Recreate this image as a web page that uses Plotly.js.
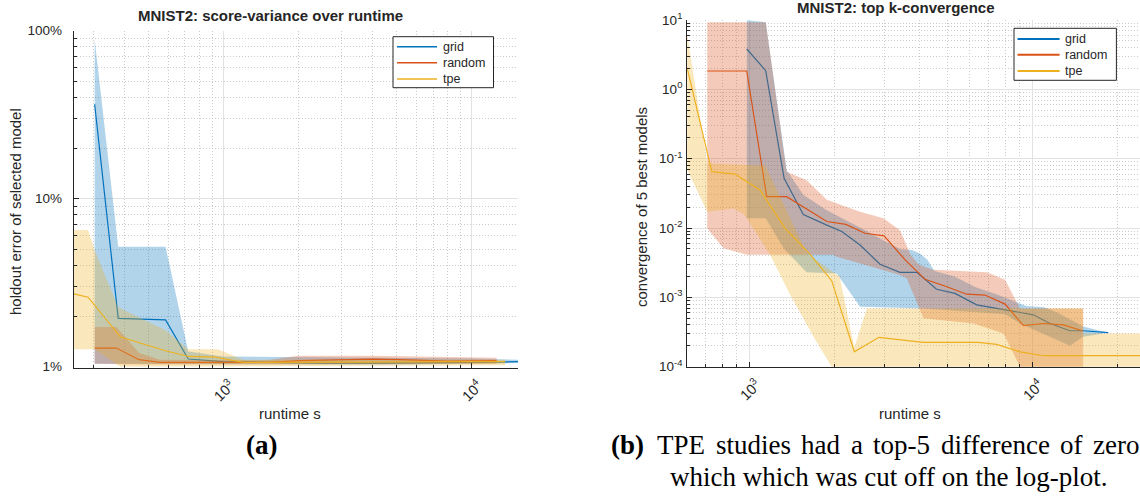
<!DOCTYPE html>
<html>
<head>
<meta charset="utf-8">
<script src="https://cdn.plot.ly/plotly-3.0.1.min.js"></script>
<style>
  html, body { margin: 0; padding: 0; background: #ffffff; }
  #chart { width: 1140px; height: 502px; }
</style>
</head>
<body>
<div id="chart"></div>
<script>
// ---------- (a) holdout error of the selected model [%] over runtime [s] ----------
const gridErrX = [303, 377, 585, 722, 1000, 1500, 2500, 4000, 6000, 10000, 15400];
const gridErrY = [36.5, 1.94, 1.90, 1.11, 1.07, 1.06, 1.05, 1.05, 1.05, 1.06, 1.07];
const gridErrHiX = [303, 377, 585, 722, 1000, 3000, 10000, 15400];
const gridErrHiY = [89, 5.18, 5.18, 1.23, 1.15, 1.14, 1.12, 1.10];
const gridErrLoX = [303, 1000, 5000, 15400];
const gridErrLoY = [1.04, 1.03, 1.03, 1.05];

const randErrX = [303, 371, 457, 555, 1000, 1541, 2036, 4010, 5150, 8000, 12620];
const randErrY = [1.29, 1.29, 1.10, 1.06, 1.06, 1.06, 1.085, 1.11, 1.10, 1.08, 1.085];
const randErrHiX = [303, 371, 457, 555, 1500, 2000, 4000, 8000, 12620];
const randErrHiY = [1.72, 1.72, 1.21, 1.10, 1.09, 1.16, 1.16, 1.14, 1.13];
const randErrLoX = [303, 457, 1000, 12620];
const randErrLoY = [1.04, 1.03, 1.03, 1.04];

const tpeErrX = [250, 285, 385, 590, 722, 925, 1203, 2000, 5000, 10000, 13650];
const tpeErrY = [2.71, 2.59, 1.50, 1.24, 1.15, 1.14, 1.06, 1.06, 1.06, 1.07, 1.07];
const tpeErrHiX = [250, 285, 303, 377, 585, 722, 950, 1203, 5000, 13650];
const tpeErrHiY = [6.5, 6.5, 4.95, 2.26, 1.65, 1.27, 1.27, 1.10, 1.10, 1.10];
const tpeErrLoX = [250, 303, 385, 1000, 13650];
const tpeErrLoY = [1.27, 1.27, 1.0, 1.01, 1.02];

// ---------- (b) convergence of the 5 best models over runtime [s] ----------
const gridConvX = [977, 1140, 1324, 1548, 1875, 2118, 2457, 2890, 3400, 3900, 4580, 5320, 6350, 7470, 8550, 10070, 11530, 13550, 15100, 18530];
const gridConvY = [3.82, 1.86, 0.052, 0.0157, 0.0110, 0.0089, 0.0057, 0.0030, 0.0023, 0.0023, 0.00131, 0.00114, 0.00078, 0.00069, 0.00062, 0.00056, 0.00042, 0.00033, 0.00033, 0.00031];
const gridConvHiX = [977, 1140, 1352, 1550, 1875, 2200, 2600, 3000, 3400, 3750, 4000, 4250, 4500, 5300, 6300, 7500, 8500, 9500, 11000, 12300, 15100, 18530];
const gridConvHiY = [9.9, 9.27, 0.068, 0.03, 0.018, 0.013, 0.009, 0.0065, 0.005, 0.0048, 0.0043, 0.0035, 0.0024, 0.002, 0.0014, 0.0011, 0.0009, 0.00075, 0.00072, 0.0006, 0.00038, 0.00031];
const gridConvLoX = [977, 1140, 1324, 1590, 2032, 2457, 4110, 8000, 9030, 13560, 15100, 18530];
const gridConvLoY = [0.0138, 0.0138, 0.005, 0.0023, 0.0022, 0.00073, 0.00069, 0.00057, 0.00042, 0.0002, 0.00027, 0.00031];

const randConvX = [708, 977, 1149, 1352, 1875, 2188, 2560, 2988, 3540, 4170, 4900, 5850, 6790, 8000, 9290, 10920, 12840, 15040];
const randConvY = [1.84, 1.84, 0.0283, 0.0283, 0.0124, 0.0113, 0.0084, 0.0077, 0.0035, 0.00182, 0.00146, 0.00111, 0.00108, 0.00080, 0.00039, 0.00042, 0.00040, 0.00033];
const randConvHiX = [708, 977, 1140, 1352, 1590, 1875, 2457, 2970, 3400, 3700, 3950, 4220, 4460, 6900, 8000, 9030, 15100];
const randConvHiY = [9.27, 9.27, 9.27, 0.065, 0.049, 0.0256, 0.0172, 0.0138, 0.0093, 0.0042, 0.0030, 0.0027, 0.0025, 0.0023, 0.0018, 0.00069, 0.00069];
const randConvLoX = [708, 808, 977, 1977, 2032, 3400, 3590, 4000, 4110, 6200, 7900, 9030, 9500, 15100];
const randConvLoY = [0.0099, 0.0051, 0.0041, 0.0041, 0.00385, 0.0021, 0.00188, 0.00066, 0.0005, 0.00042, 0.0003, 0.0001, 1e-5, 1e-5];

const tpeConvX = [601, 735, 888, 1088, 1334, 1634, 1950, 2345, 2865, 3400, 4110, 6440, 7470, 9040, 10920, 24000];
const tpeConvY = [2.05, 0.065, 0.060, 0.0353, 0.0099, 0.0042, 0.00174, 0.000164, 0.000265, 0.000248, 0.000225, 0.000225, 0.00021, 0.000164, 0.000144, 0.000144];
const tpeConvHiX = [601, 708, 977, 1134, 1334, 1592, 2080, 2345, 2596, 15100, 15101, 24000];
const tpeConvHiY = [6.4, 0.086, 0.081, 0.08, 0.02, 0.0043, 0.0020, 0.00019, 0.00069, 0.00069, 0.0003, 0.0003];
const tpeConvLoX = [601, 708, 877, 950, 977, 1181, 1389, 1700, 1950, 2100, 24000];
const tpeConvLoY = [0.07, 0.0172, 0.0192, 0.016, 0.0138, 0.0041, 0.0011, 0.00025, 0.0001, 1e-5, 1e-5];

// tick labels
const errTickVals = [1, 10, 100];
const errTickText = ['1%', '10%', '100%'];
const convTickVals = [1e-4, 1e-3, 1e-2, 1e-1, 1, 10];
const convTickText = ['10<sup>-4</sup>', '10<sup>-3</sup>', '10<sup>-2</sup>', '10<sup>-1</sup>', '10<sup>0</sup>', '10<sup>1</sup>'];
const timeTickVals = [1000, 10000];
const timeTickText = ['10<sup>3</sup>', '10<sup>4</sup>'];

const seriesNames = ['grid', 'random', 'tpe'];

// ---------- styling ----------
const W = 1140, H = 502;
const colors = ['#0072BD', '#D95319', '#EDB120'];
const fills = ['rgba(0,114,189,0.3)', 'rgba(217,83,25,0.3)', 'rgba(237,177,32,0.3)'];
const sans = 'Liberation Sans, Arial, Helvetica, sans-serif';
const serif = 'Liberation Serif, Times New Roman, serif';
const ink = '#262626';

const fx = p => p / W;
const fy = p => 1 - p / H;

// minor positions 2..9 within each decade
function minorVals(d0, d1) {
  const v = [];
  for (let d = d0; d <= d1; d++) for (let k = 2; k <= 9; k++) v.push(k * Math.pow(10, d));
  return v;
}

function bandTrace(ux, uy, lx, ly, i, xa, ya) {
  return {
    x: ux.concat(lx.slice().reverse()),
    y: uy.concat(ly.slice().reverse()),
    xaxis: xa, yaxis: ya,
    type: 'scatter', mode: 'lines', fill: 'toself',
    fillcolor: fills[i], line: { width: 0 },
    hoverinfo: 'skip', showlegend: false
  };
}

function lineTrace(x, y, i, xa, ya) {
  return {
    x: x, y: y, xaxis: xa, yaxis: ya,
    type: 'scatter', mode: 'lines', name: seriesNames[i],
    line: { color: colors[i], width: 1.2 },
    showlegend: false
  };
}

const traces = [
  bandTrace(gridErrHiX, gridErrHiY, gridErrLoX, gridErrLoY, 0, 'x', 'y'),
  lineTrace(gridErrX, gridErrY, 0, 'x', 'y'),
  bandTrace(randErrHiX, randErrHiY, randErrLoX, randErrLoY, 1, 'x', 'y'),
  lineTrace(randErrX, randErrY, 1, 'x', 'y'),
  bandTrace(tpeErrHiX, tpeErrHiY, tpeErrLoX, tpeErrLoY, 2, 'x', 'y'),
  lineTrace(tpeErrX, tpeErrY, 2, 'x', 'y'),

  bandTrace(gridConvHiX, gridConvHiY, gridConvLoX, gridConvLoY, 0, 'x2', 'y2'),
  lineTrace(gridConvX, gridConvY, 0, 'x2', 'y2'),
  bandTrace(randConvHiX, randConvHiY, randConvLoX, randConvLoY, 1, 'x2', 'y2'),
  lineTrace(randConvX, randConvY, 1, 'x2', 'y2'),
  bandTrace(tpeConvHiX, tpeConvHiY, tpeConvLoX, tpeConvLoY, 2, 'x2', 'y2'),
  lineTrace(tpeConvX, tpeConvY, 2, 'x2', 'y2')
];

function logAxis(domain, range, tv, tt, minor, extra) {
  return Object.assign({
    type: 'log', domain: domain, range: range,
    tickmode: 'array', tickvals: tv, ticktext: tt,
    ticks: 'inside', ticklen: 5, tickwidth: 1, tickcolor: ink,
    tickfont: { family: sans, size: 13.5, color: ink },
    showline: true, linecolor: ink, linewidth: 1, mirror: false,
    showgrid: true, gridcolor: '#e2e2e2', gridwidth: 1,
    zeroline: false, fixedrange: true,
    minor: {
      tickmode: 'array', tickvals: minor,
      ticks: 'inside', ticklen: 3, tickcolor: ink, tickwidth: 1,
      showgrid: true, gridcolor: '#cbcbcb', griddash: '1px,2px', gridwidth: 1
    }
  }, extra || {});
}

function note(text, x, y, opts) {
  return Object.assign({
    text: text, x: fx(x), y: fy(y), xref: 'paper', yref: 'paper',
    showarrow: false, xanchor: 'center', yanchor: 'middle',
    font: { family: sans, size: 15, color: ink }
  }, opts || {});
}

// legend boxes: frame, line samples and series names
function legendBox(box, rowsY, lineX0, lineX1, textX, lw) {
  const shapes = [{
    type: 'rect', xref: 'paper', yref: 'paper',
    x0: fx(box[0]), x1: fx(box[1]), y0: fy(box[3]), y1: fy(box[2]),
    line: { color: ink, width: 1 }, fillcolor: '#ffffff', layer: 'above'
  }];
  const notes = [];
  seriesNames.forEach((name, i) => {
    shapes.push({
      type: 'line', xref: 'paper', yref: 'paper',
      x0: fx(lineX0), x1: fx(lineX1), y0: fy(rowsY[i]), y1: fy(rowsY[i]),
      line: { color: colors[i], width: lw }, layer: 'above'
    });
    notes.push(note(name, textX, rowsY[i], {
      xanchor: 'left', font: { family: sans, size: 12.5, color: ink }
    }));
  });
  return { shapes, notes };
}

const legA = legendBox([393, 493.5, 36.7, 87.7], [46.7, 62.7, 79], 397, 437, 441, 1.5);
const legB = legendBox([1014, 1116.4, 28.3, 80.3], [39, 54.7, 71], 1017.5, 1059.6, 1063, 2);

// justified caption line: each word set at its own start position
const captionFont = { family: serif, size: 27, color: '#000000' };
const captionWords = ['TPE', 'studies', 'had', 'a', 'top-5', 'difference', 'of', 'zero'];
const captionWordX = [655, 714, 799, 849, 871, 939, 1058, 1091];
const captionNotes = captionWords.map((w, i) =>
  note(w, captionWordX[i], 445, { xanchor: 'left', font: captionFont }));

const xTickFont = { family: sans, size: 14.5, color: ink };

const layout = {
  width: W, height: H,
  margin: { l: 0, r: 0, t: 0, b: 0 },
  paper_bgcolor: '#ffffff', plot_bgcolor: '#ffffff',
  showlegend: false,
  xaxis: logAxis([fx(73.7), fx(518.2)], [2.397, 4.188], timeTickVals, timeTickText, minorVals(2, 4),
                 { anchor: 'y', tickangle: -45, tickfont: xTickFont, ticklabelstandoff: 3, ticklabelshift: 7 }),
  yaxis: logAxis([fy(367.5), fy(30.7)], [-0.005, 2], errTickVals, errTickText, minorVals(0, 1),
                 { anchor: 'x', ticklabelstandoff: 8 }),
  xaxis2: logAxis([fx(687.1), 1], [2.779, 4.380], timeTickVals, timeTickText, minorVals(2, 4),
                  { anchor: 'y2', tickangle: -45, tickfont: xTickFont, ticklabelstandoff: 3, ticklabelshift: 7 }),
  yaxis2: logAxis([fy(366.7), fy(20)], [-4, 1], convTickVals, convTickText, minorVals(-4, 0),
                  { anchor: 'x2', ticklabelstandoff: 1 }),
  shapes: legA.shapes.concat(legB.shapes),
  annotations: [
    note('<b>MNIST2: score-variance over runtime</b>', 270.4, 16),
    note('<b>MNIST2: top k-convergence</b>', 896, 8),
    note('holdout error of selected model', 15, 212, { textangle: -90 }),
    note('convergence of 5 best models', 641, 207, { textangle: -90 }),
    note('runtime s', 290, 413),
    note('runtime s', 910, 413),
    note('<b>(a)</b>', 261, 445, { font: captionFont }),
    note('<b>(b)</b>', 609, 445, { xanchor: 'left', font: captionFont }),
    note('which which was cut off on the log-plot.', 668, 477, { xanchor: 'left', font: captionFont })
  ].concat(captionNotes, legA.notes, legB.notes)
};

Plotly.newPlot('chart', traces, layout, { displayModeBar: false, staticPlot: true });
</script>
</body>
</html>
